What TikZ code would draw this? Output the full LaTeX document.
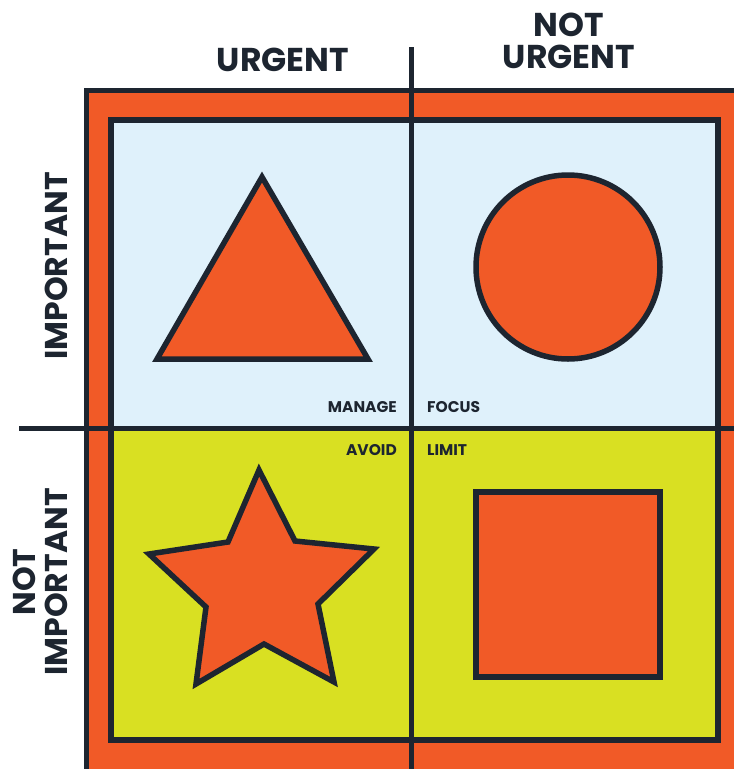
\documentclass[tikz,border=0pt]{standalone}
\usepackage{fontspec}
\setmainfont{Poppins}
\definecolor{matorange}{HTML}{F15A27}
\definecolor{matblue}{HTML}{DFF1FB}
\definecolor{matyellow}{HTML}{D9E022}
\definecolor{matdark}{HTML}{1D2530}
\begin{document}
\begin{tikzpicture}[x=1pt,y=-1pt,
  edge/.style={draw=matdark,line width=5.5pt},
  shapefill/.style={fill=matorange,draw=matdark,line width=5.5pt,line join=miter},
  bigtxt/.style={text=matdark,inner sep=0pt,font=\fontsize{33}{32}\selectfont\bfseries,align=center},
  sidetxt/.style={text=matdark,inner sep=0pt,font=\fontsize{31.5}{32}\selectfont\bfseries,align=center,rotate=90},
  smalltxt/.style={text=matdark,inner sep=0pt,font=\fontsize{15.5}{16}\selectfont\bfseries}]
\useasboundingbox (0,0) rectangle (734,769);
\clip (0,0) rectangle (734,769);
% outer frame
\path[fill=matorange,edge,line width=5pt] (86,90) rectangle (780,800);
% quadrants
\fill[matblue] (111,120) rectangle (718,428);
\fill[matyellow] (111,428) rectangle (718,740);
\draw[edge,line width=6pt] (111,120) rectangle (718,740);
% dividers
\coordinate (vtop) at (411,47);
\coordinate (vbot) at (411,775);
\coordinate (hleft) at (19,428);
\coordinate (hright) at (740,428);
\draw[edge,line width=5pt] (vtop) -- (vbot);
\draw[edge,line width=5pt] (hleft) -- (hright);
% shapes
\path[shapefill] (262,177) -- (368,359) -- (157,359) -- cycle;
\path[shapefill] (568,267) circle (92);
\path[shapefill] (259,470) -- (295,541) -- (374,549) -- (318,604) -- (334,682)
  -- (264,644) -- (196,684) -- (206,607) -- (149,554) -- (228,542) -- cycle;
\path[shapefill] (476,492) rectangle (660,677);
% labels
\node[bigtxt] (urg) at (283,60) {URGENT};
\node[bigtxt] (nurg) at (569,41) {NOT\\URGENT};
\node[sidetxt] (imp) at (56,266) {IMPORTANT};
\node[sidetxt] (nimp) at (40,582) {NOT\\IMPORTANT};
\node[smalltxt,anchor=east] (manage) at (397,407) {MANAGE};
\node[smalltxt,anchor=west] (focus) at (427,407) {FOCUS};
\node[smalltxt,anchor=east] (avoid) at (397,450) {AVOID};
\node[smalltxt,anchor=west] (limit) at (427,450) {LIMIT};
\end{tikzpicture}
\end{document}
